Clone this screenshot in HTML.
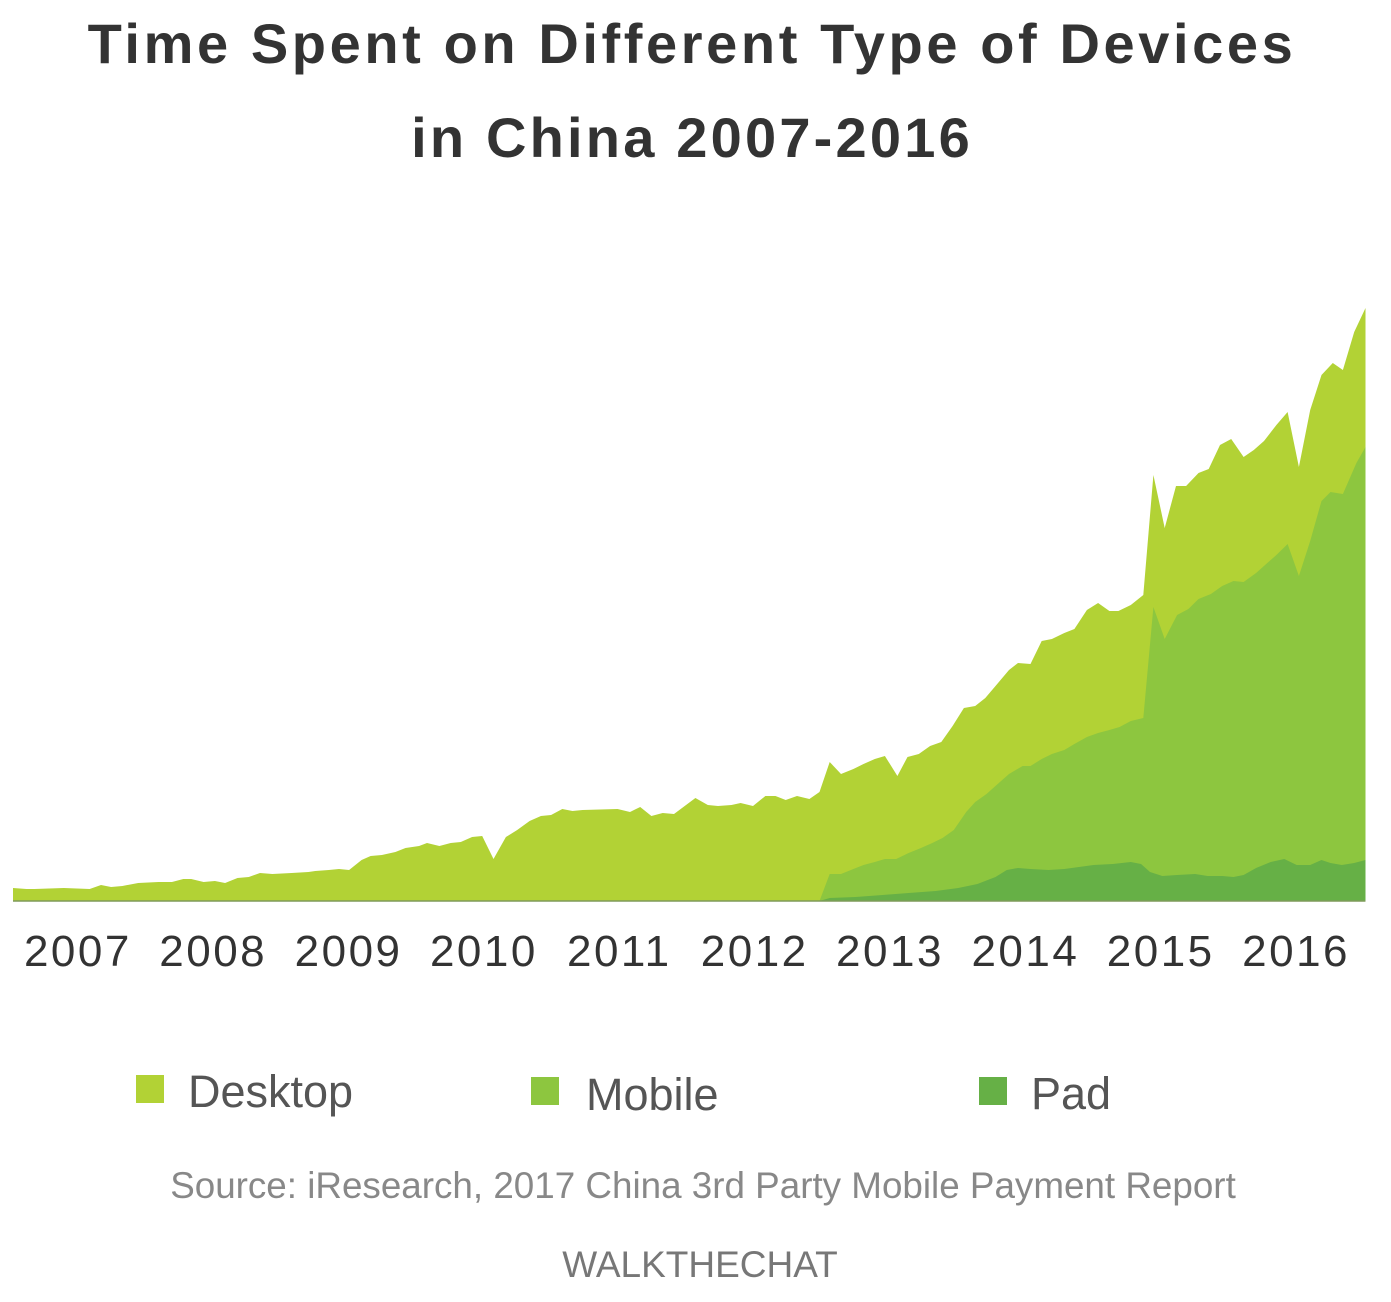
<!DOCTYPE html>
<html><head><meta charset="utf-8"><style>
html,body{margin:0;padding:0;background:#fff;}
svg{display:block;font-family:"Liberation Sans",sans-serif;}
</style></head><body>
<svg id="chart" width="1391" height="1302" viewBox="0 0 1391 1302">
<text x="692" y="63" text-anchor="middle" font-size="56" font-weight="bold" fill="#333" letter-spacing="3.6">Time Spent on Different Type of Devices</text>
<text x="692" y="157" text-anchor="middle" font-size="56" font-weight="bold" fill="#333" letter-spacing="3.2">in China 2007-2016</text>
<g id="plot"></g>
<g id="xaxis"></g>
<g>
<rect x="136" y="1075" width="28" height="28" fill="#b2d235"/>
<text x="188" y="1107" font-size="45" fill="#555">Desktop</text>
<rect x="531" y="1077" width="28" height="28" fill="#8dc63f"/>
<text x="586" y="1110" font-size="45" fill="#555">Mobile</text>
<rect x="979" y="1077" width="28" height="28" fill="#66b046"/>
<text x="1031" y="1109" font-size="45" fill="#555">Pad</text>
</g>
<text x="703" y="1198" text-anchor="middle" font-size="36.8" fill="#888">Source: iResearch, 2017 China 3rd Party Mobile Payment Report</text>
<text x="700" y="1277" text-anchor="middle" font-size="37" fill="#777">WALKTHECHAT</text>
</svg>
<script>
// months since Jan 2007; values are stacked totals (arbitrary units)
const totalMonths = [0,1.2,1.9,4.5,6.8,7.8,8.7,9.7,11.1,12.9,14.1,15.1,15.8,16.9,17.9,18.8,19.9,20.9,21.9,23.0,24.7,26.2,26.8,28.0,28.9,29.8,30.9,31.7,32.7,33.9,34.8,36.0,36.7,37.8,38.8,39.7,40.7,41.6,42.6,43.7,44.7,45.8,46.8,47.7,48.7,49.6,50.5,53.6,54.7,55.6,56.6,57.6,58.6,60.5,61.6,62.5,63.7,64.5,65.6,66.7,67.6,68.5,69.5,70.6,71.5,72.4,73.4,74.5,75.4,76.4,77.3,78.4,79.3,80.3,81.3,82.3,83.3,84.3,85.3,86.2,87.1,88.3,89.1,90.2,91.2,92.1,93.2,94.1,95.2,96.2,97.2,98.0,99.1,100.2,101.1,102.1,103.1,104.0,105.1,106.0,107.0,108.0,109.1,110.0,110.9,112.0,113.0,114.0,115.0,116.0,117.0,117.9,118.9,119.9];
const totalValues = [13,12,12,13,12,16,14,15,18,19,19,22,22,19,20,18,23,24,28,27,28,29,30,31,32,31,41,45,46,49,53,55,58,55,58,59,64,65,42,64,71,80,85,86,92,90,91,92,89,94,85,88,87,103,96,95,96,98,95,105,105,101,105,102,109,139,127,132,137,142,145,125,144,147,155,159,175,193,195,203,215,231,238,237,260,262,268,272,291,298,290,290,296,306,426,373,415,415,428,432,456,462,444,451,460,476,489,434,491,526,538,531,569,593];
const mobileMonths = [71.5,72.4,73.4,74.5,75.4,76.4,77.3,78.3,79.4,80.5,81.5,82.4,83.4,84.5,85.3,86.3,87.3,88.3,89.5,90.2,91.2,92.1,93.2,94.1,95.2,96.2,97.2,98.1,99.1,100.2,101.1,102.1,103.2,104.2,105.1,106.2,107.2,108.2,109.1,110.2,111.2,112.0,113.0,114.0,115.0,116.0,116.8,117.9,119.1,119.9];
const mobileValues = [0,27,27,32,36,39,42,42,48,53,58,63,71,89,99,107,117,127,135,135,142,147,151,157,164,168,171,174,180,183,294,262,286,292,302,307,315,320,319,328,338,346,357,325,360,400,409,407,438,454];
const padMonths = [71.5,72.4,74.7,77.1,79.4,81.8,83.8,85.5,87.1,88.1,89.1,90.2,91.8,93.2,94.5,95.8,97.5,99.1,100.0,100.8,101.9,103.2,104.8,105.9,107.2,108.2,109.1,110.2,111.5,112.7,113.8,115.0,116.0,116.8,117.8,118.9,119.9];
const padValues = [0,3,4,6,8,10,13,17,24,31,33,32,31,32,34,36,37,39,37,29,25,26,27,25,25,24,26,33,39,42,36,36,41,38,36,38,41];
const yearLabels = ["2007","2008","2009","2010","2011","2012","2013","2014","2015","2016"];

const X0 = 13, MONTH_W = 11.28, BASE = 901, Y_SCALE = 1;
function xScale(m){ return X0 + m * MONTH_W; }
function yScale(v){ return BASE - v * Y_SCALE; }
const NS = "http://www.w3.org/2000/svg";
const plot = document.getElementById('plot');
function area(months, values, color, name){
  let d = 'M' + xScale(months[0]).toFixed(1) + ',' + BASE;
  for (let i = 0; i < months.length; i++) d += ' L' + xScale(months[i]).toFixed(1) + ',' + yScale(values[i]).toFixed(1);
  d += ' L' + xScale(months[months.length-1]).toFixed(1) + ',' + BASE + ' Z';
  const p = document.createElementNS(NS, 'path');
  p.setAttribute('d', d);
  p.setAttribute('fill', color);
  
  
  plot.appendChild(p);
}
area(totalMonths, totalValues, '#b2d235', 'desktop-area');
area(mobileMonths, mobileValues, '#8dc63f', 'mobile-area');
area(padMonths, padValues, '#66b046', 'pad-area');
const base = document.createElementNS(NS, 'line');
base.setAttribute('x1', X0); base.setAttribute('x2', xScale(119.9));
base.setAttribute('y1', BASE); base.setAttribute('y2', BASE);
base.setAttribute('stroke', '#7f9a5a'); base.setAttribute('stroke-width', '1.5');


plot.appendChild(base);
const xaxis = document.getElementById('xaxis');
yearLabels.forEach((lab, i) => {
  const t = document.createElementNS(NS, 'text');
  t.setAttribute('x', (xScale(i*12 + 5.75)).toFixed(1));
  t.setAttribute('y', 966);
  t.setAttribute('text-anchor', 'middle');
  t.setAttribute('font-size', '44');
  t.setAttribute('letter-spacing', '2.5');
  t.setAttribute('fill', '#333');
  t.textContent = lab;
  
  
  xaxis.appendChild(t);
});
</script>
</body></html>
